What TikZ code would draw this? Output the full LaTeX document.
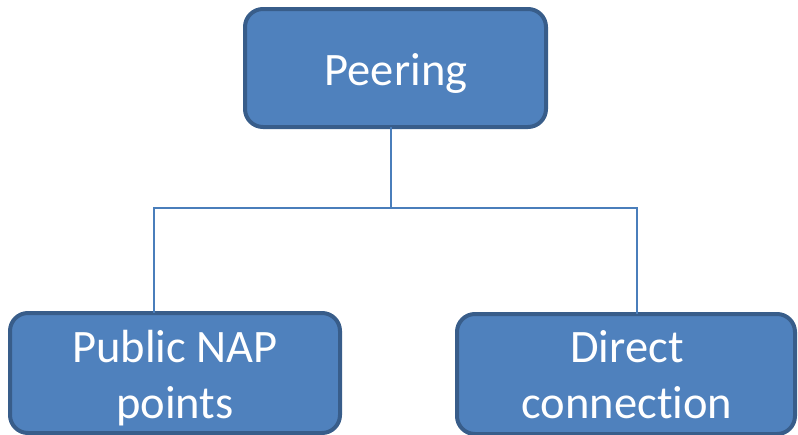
\documentclass[tikz,border=0pt]{standalone}
\usepackage{fontspec}
\setmainfont{Carlito}[Ligatures=NoCommon]
\definecolor{boxfill}{HTML}{4F81BD}
\definecolor{boxedge}{HTML}{385D8A}
\definecolor{linkcol}{HTML}{4A7EBB}
\begin{document}
\begin{tikzpicture}[x=1pt,y=-1pt,
  orgbox/.style={draw=boxedge, line width=4pt, fill=boxfill, rounded corners=18pt,
    inner sep=0pt, outer sep=0pt},
  boxlabel/.style={text=white, anchor=base, align=center, inner sep=0pt,
    font=\fontsize{46.5pt}{56pt}\selectfont},
  conn/.style={draw=linkcol, line width=1.6pt}]
  \useasboundingbox (0,0) rectangle (798,434);
  % boxes
  \node[orgbox, minimum width=301pt, minimum height=118pt] (top) at (395.5,68) {};
  \node[orgbox, minimum width=330pt, minimum height=120pt] (pub) at (175,373) {};
  \node[orgbox, minimum width=338pt, minimum height=120pt] (dir) at (626,374) {};
  % labels (base anchor sits on the last line)
  \node[boxlabel] (toplbl) at (396,85) {Peering};
  \node[boxlabel] (publbl) at (175,418) {Public NAP\\points};
  \node[boxlabel] (dirlbl) at (627,418) {Direct\\connection};
  % connectors
  \coordinate (hub) at (391,208);
  \coordinate (lt) at (154,208);
  \coordinate (rt) at (637,208);
  \draw[conn] (top.south -| hub) -- (hub);
  \draw[conn] (pub.north -| lt) -- (lt) -- (rt) -- (dir.north -| rt);
\end{tikzpicture}
\end{document}
